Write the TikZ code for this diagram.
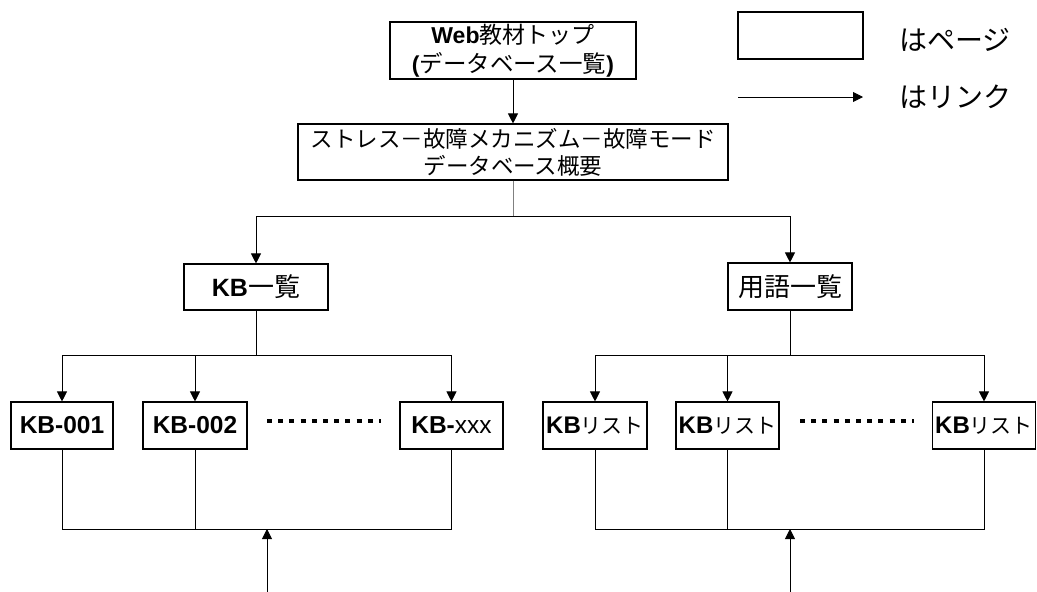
\documentclass[tikz,border=0pt]{standalone}
\usepackage{fontspec}
\setmainfont{Liberation Sans}
\newfontfamily\jp{Noto Sans CJK JP}
\usetikzlibrary{arrows.meta}
\newcommand{\fs}[1]{\fontsize{#1}{1.2\dimexpr#1pt\relax}\selectfont}
\tikzset{
  pagebox/.style={draw, line width=1.1pt, inner sep=0pt, align=center,
    font=\fs{23}},
  conn/.style={line width=0.9pt},
  arr/.style={conn, -{Triangle[length=10pt,width=10pt]}},
  dotrow/.style={line width=4.5pt, dash pattern=on 5pt off 6.2pt},
  legtext/.style={anchor=west, inner sep=0pt, font=\fs{28}\jp}
}
\begin{document}
\begin{tikzpicture}[x=1pt,y=-1pt]
\useasboundingbox (0,0) rectangle (1037,592);
% pages
\node[pagebox, minimum width=246pt, minimum height=57pt] (top) at (513,50.5)
  {\textbf{Web}{\jp 教材トップ}\\[1pt]\textbf{(}{\jp\fs{23.5}データベース一覧}\textbf{)}};
\node[pagebox, minimum width=430pt, minimum height=56pt, font=\fs{22.5}] (db) at (513,152)
  {{\jp ストレス－故障メカニズム－故障モード}\\{\jp データベース概要}};
\node[pagebox, minimum width=144pt, minimum height=46pt, font=\fs{25}] (kbl) at (256,287) {\textbf{KB}{\jp\fs{26}一覧}};
\node[pagebox, minimum width=124pt, minimum height=47pt, font=\fs{26}] (yg) at (790,286.5) {{\jp 用語一覧}};
% left row
\node[pagebox, minimum width=102pt, minimum height=47pt, font=\fs{24.5}] (k1) at (62,425.5) {\textbf{KB-001}};
\node[pagebox, minimum width=104pt, minimum height=47pt, font=\fs{24.5}] (k2) at (195,425.5) {\textbf{KB-002}};
\node[pagebox, minimum width=103pt, minimum height=47pt, font=\fs{24.5}] (k3) at (451.5,425.5) {\textbf{KB-}xxx};
% right row
\node[pagebox, minimum width=104pt, minimum height=47pt, font=\fs{24}] (r1) at (595,425.5) {\textbf{KB}{\jp\fs{21}リスト}};
\node[pagebox, minimum width=103pt, minimum height=47pt, font=\fs{24}] (r2) at (727.5,425.5) {\textbf{KB}{\jp\fs{21}リスト}};
\node[pagebox, minimum width=103pt, minimum height=47pt, font=\fs{24}] (r3) at (984,425.5) {\textbf{KB}{\jp\fs{21}リスト}};
% dots
\coordinate (d1a) at (267,421); \coordinate (d1b) at (381,421);
\coordinate (d2a) at (800,421); \coordinate (d2b) at (914,421);
\draw[dotrow] (d1a) -- (d1b);
\draw[dotrow] (d2a) -- (d2b);
% connectors
\draw[arr] (top.south) -- (db.north);
\coordinate (j1) at (513,216);
\draw[conn, draw=gray] (db.south) -- (j1);
\draw[arr] (j1) -| (kbl.north);
\draw[arr] (j1) -| (yg.north);
\coordinate (j2) at (256,355);
\coordinate (j3) at (790,355);
\draw[conn] (kbl.south) -- (j2);
\draw[conn] (yg.south) -- (j3);
\draw[arr] (j2) -| (k1.north);
\draw[arr] (j2) -| (k2.north);
\draw[arr] (j2) -| (k3.north);
\draw[arr] (j3) -| (r1.north);
\draw[arr] (j3) -| (r2.north);
\draw[arr] (j3) -| (r3.north);
\coordinate (b1) at (267,529);
\coordinate (b2) at (790,529);
\draw[conn] (k1.south) |- (b1);
\draw[conn] (k2.south) |- (b1);
\draw[conn] (k3.south) |- (b1);
\draw[conn] (r1.south) |- (b2);
\draw[conn] (r2.south) |- (b2);
\draw[conn] (r3.south) |- (b2);
\coordinate (s1) at (267,592);
\coordinate (s2) at (790,592);
\draw[arr] (s1) -- (b1);
\draw[arr] (s2) -- (b2);
% legend
\node[pagebox, minimum width=125pt, minimum height=47pt] (lg) at (800.5,35.5) {};
\node[legtext] (lgt) at (899,40) {はページ};
\coordinate (la1) at (738,97);
\coordinate (la2) at (863,97);
\draw[arr] (la1) -- (la2);
\node[legtext] (lat) at (899,97) {はリンク};
\end{tikzpicture}
\end{document}
